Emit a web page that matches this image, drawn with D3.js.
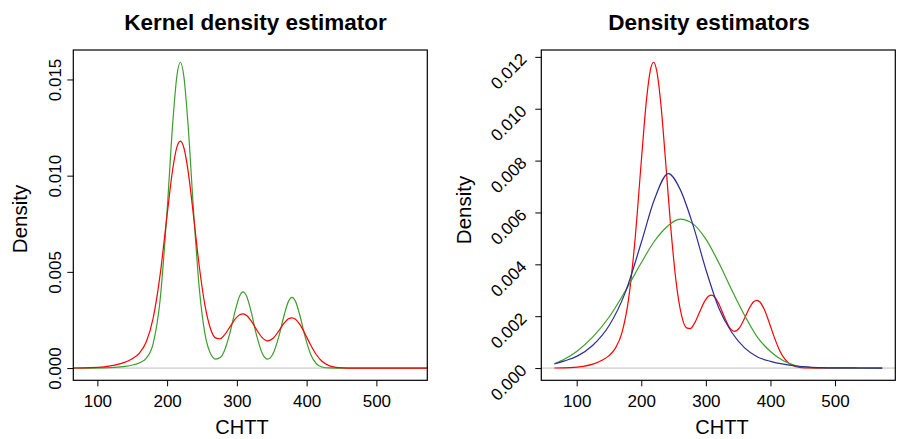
<!DOCTYPE html>
<html>
<head>
<meta charset="utf-8">
<script src="https://cdn.jsdelivr.net/npm/d3@7"></script>
<style>
  body { margin: 0; background: #fff; }
  text { font-family: "Liberation Sans", Arial, Helvetica, sans-serif; fill: #000; }
</style>
</head>
<body>
<div id="chart"></div>
<script>
// Data

// grid of CHTT values for the two kernel estimates
const kdeX = [65.5, 90, 110, 125, 140, 150, 160, 170, 180, 190, 200, 208, 214, 219, 224, 230,
  238, 246, 254, 262, 270, 276, 282, 290, 298, 304, 309, 314, 320, 328, 336, 344, 352, 360,
  368, 374, 379, 384, 390, 398, 406, 414, 422, 432, 445, 460, 480, 520, 573];

// wider bandwidth (red)
const kdeWide = [0.000003, 0.000018, 0.000066, 0.000151, 0.000309, 0.00048, 0.000769, 0.001357,
  0.002599, 0.004856, 0.007966, 0.010333, 0.011483, 0.011793, 0.011449, 0.010264, 0.007862,
  0.00532, 0.003305, 0.00207, 0.001552, 0.001524, 0.00171, 0.002138, 0.002571, 0.002773,
  0.002816, 0.002728, 0.002477, 0.00201, 0.001594, 0.001416, 0.001552, 0.001924, 0.002345,
  0.002559, 0.002613, 0.002537, 0.002283, 0.00176, 0.001182, 0.000691, 0.000352, 0.000125,
  0.000023, 0.000002, 0, 0, 0];

// narrower bandwidth (green, left panel)
const kdeNarrow = [0, 0.000002, 0.000011, 0.000035, 0.000091, 0.000158, 0.000266, 0.000505,
  0.001273, 0.003551, 0.008195, 0.012706, 0.01518, 0.015895, 0.015155, 0.012655, 0.008113,
  0.004189, 0.001829, 0.000774, 0.000465, 0.000544, 0.000893, 0.001815, 0.003037, 0.00375,
  0.003957, 0.00373, 0.002994, 0.00174, 0.000801, 0.000465, 0.000753, 0.00162, 0.002785,
  0.003466, 0.00367, 0.003466, 0.002784, 0.00161, 0.000695, 0.000224, 0.000054, 0.000006,
  0, 0, 0, 0, 0];

// grid for the two parametric fits (right panel)
const fitX = [65.5, 80, 100, 125, 150, 175, 200, 220, 242, 260, 280, 300, 320, 340, 360, 380,
  400, 420, 440, 460, 480, 500, 530, 573];

const fitBlue = [0.000155, 0.00027, 0.00045, 0.00088, 0.00163, 0.0029, 0.00484, 0.00648, 0.0075,
  0.0069, 0.00552, 0.0038, 0.00232, 0.00138, 0.00078, 0.00043, 0.00026, 0.00015, 0.00008,
  0.00004, 0.00002, 0.00001, 0.000004, 0.000001];

const fitGreen = [0.000166, 0.00033, 0.00064, 0.0012, 0.00196, 0.00296, 0.00406, 0.00488, 0.0055,
  0.00574, 0.00556, 0.00497, 0.00406, 0.00302, 0.00203, 0.00118, 0.00064, 0.00028, 0.00009,
  0.00003, 0.00001, 0.000004, 0.000001, 0];

const xTicks = [100, 200, 300, 400, 500];
const leftYTicks = [0, 0.005, 0.010, 0.015];
const rightYTicks = [0, 0.002, 0.004, 0.006, 0.008, 0.010, 0.012];

const RED = '#ff0000';
const GREEN = '#3c9e2c';
const BLUE = '#2c2c99';

// Chart setup
const width = 899;
const height = 439;
const svg = d3.select('#chart')
  .append('svg')
  .attr('width', width)
  .attr('height', height);

// R style 4% padding
function padded(lo, hi) {
  const p = (hi - lo) * 0.04;
  return [lo - p, hi + p];
}

function drawPanel(opt) {
  const g = svg.append('g');

  const x = d3.scaleLinear().domain(opt.xDomain).range([opt.left, opt.right]);
  const y = d3.scaleLinear().domain(opt.yDomain).range([opt.bottom, opt.top]);

  // zero line
  g.append('line')
    .attr('x1', opt.left).attr('x2', opt.right)
    .attr('y1', y(0)).attr('y2', y(0))
    .attr('stroke', '#bebebe')
    .attr('stroke-width', 1);

  const line = d3.line()
    .x(d => x(d[0]))
    .y(d => y(d[1]))
    .curve(d3.curveMonotoneX);

  opt.series.forEach(s => {
    g.append('path')
      .datum(s.xs.map((v, i) => [v, s.ys[i]]))
      .attr('fill', 'none')
      .attr('stroke', s.color)
      .attr('stroke-width', 1.2)
      .attr('d', line);
  });

  // box
  g.append('rect')
    .attr('x', opt.left).attr('y', opt.top)
    .attr('width', opt.right - opt.left)
    .attr('height', opt.bottom - opt.top)
    .attr('fill', 'none')
    .attr('stroke', '#000')
    .attr('stroke-width', 1.2);

  // x axis
  const xAxis = g.append('g')
    .attr('transform', `translate(0,${opt.bottom})`)
    .call(d3.axisBottom(x).tickValues(xTicks).tickSize(6).tickFormat(d3.format('d')));
  xAxis.select('.domain').remove();
  xAxis.selectAll('line').attr('stroke', '#000');
  xAxis.selectAll('text')
    .attr('y', 26.7).attr('dy', null)
    .style('font-size', '17px');

  // y axis
  const yAxis = g.append('g')
    .attr('transform', `translate(${opt.left},0)`)
    .call(d3.axisLeft(y).tickValues(opt.yTicks).tickSize(6).tickFormat(d3.format('.3f')));
  yAxis.select('.domain').remove();
  yAxis.selectAll('line').attr('stroke', '#000');
  const yt = yAxis.selectAll('text')
    .attr('dy', null)
    .style('font-size', '17px');
  if (opt.slanted) {
    yt.attr('x', 0).attr('y', 0)
      .attr('text-anchor', 'end')
      .attr('transform', 'translate(-13.5,3) rotate(-45)');
  } else {
    yt.attr('x', 0).attr('y', -12.3)
      .attr('text-anchor', 'middle')
      .attr('transform', 'rotate(-90)');
  }

  // titles and labels
  svg.append('text')
    .attr('x', opt.titleX).attr('y', 29.5)
    .attr('text-anchor', 'middle')
    .style('font-size', '22.5px')
    .style('font-weight', 'bold')
    .text(opt.title);

  svg.append('text')
    .attr('x', opt.xLabelX).attr('y', 434)
    .attr('text-anchor', 'middle')
    .style('font-size', '20px')
    .text('CHTT');

  svg.append('text')
    .attr('transform', `translate(${opt.yLabelX},${opt.yLabelY}) rotate(-90)`)
    .attr('text-anchor', 'middle')
    .style('font-size', '20.5px')
    .text('Density');
}

// Left panel: x limits are the data range, y limits padded
drawPanel({
  left: 73.3, right: 427.3, top: 50, bottom: 380.3,
  xDomain: d3.extent(kdeX),
  yDomain: padded(0, d3.max(kdeNarrow)),
  yTicks: leftYTicks,
  slanted: false,
  title: 'Kernel density estimator',
  titleX: 255.5, xLabelX: 242, yLabelX: 27, yLabelY: 219,
  series: [
    { xs: kdeX, ys: kdeNarrow, color: GREEN },
    { xs: kdeX, ys: kdeWide, color: RED }
  ]
});

// Right panel
drawPanel({
  left: 541.3, right: 895.3, top: 50, bottom: 380.3,
  xDomain: padded(d3.min(fitX), d3.max(fitX)),
  yDomain: padded(0, d3.max(kdeWide)),
  yTicks: rightYTicks,
  slanted: true,
  title: 'Density estimators',
  titleX: 709, xLabelX: 722, yLabelX: 471, yLabelY: 210,
  series: [
    { xs: kdeX, ys: kdeWide, color: RED },
    { xs: fitX, ys: fitGreen, color: GREEN },
    { xs: fitX, ys: fitBlue, color: BLUE }
  ]
});
</script>
</body>
</html>
